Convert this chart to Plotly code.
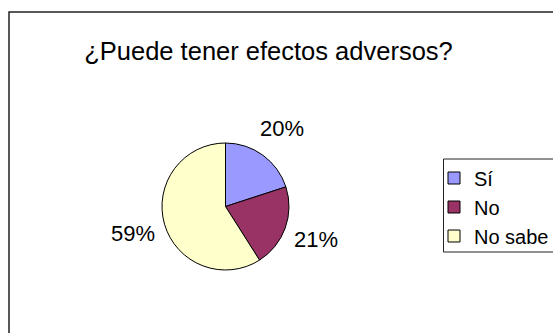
import math
import plotly.graph_objects as go

labels = ["Sí", "No", "No sabe"]
values = [20, 21, 59]
colors = ["#9999FF", "#993366", "#FFFFCC"]
title_text = "¿Puede tener efectos adversos?"

W, H = 553, 333
FONT = "Liberation Sans, Arial, sans-serif"

pcx, pcy, pr = 225.5, 206.5, 63.5

def px(x):
    return x / W

def py(y):
    return 1 - y / H

fig = go.Figure()
fig.add_trace(go.Pie(
    labels=labels, values=values, sort=False, direction="clockwise", rotation=0,
    marker=dict(colors=colors, line=dict(color="black", width=1)),
    textinfo="none", hoverinfo="label+percent",
    domain=dict(x=[px(pcx - pr), px(pcx + pr)], y=[py(pcy + pr), py(pcy - pr)]),
))

# percentage labels around the pie, positioned from the slice values
total = sum(values)
annotations = []
cum = 0
for v in values:
    mid = (cum + v / 2) / total
    cum += v
    ang = 2 * math.pi * mid
    r = pr * 1.52
    x = pcx + r * math.sin(ang)
    y = pcy - r * math.cos(ang)
    annotations.append(dict(
        x=px(x), y=py(y), xref="paper", yref="paper", showarrow=False,
        text=f"{round(v / total * 100)}%", xanchor="center", yanchor="middle",
        font=dict(family=FONT, size=22, color="black"),
    ))

shapes = [
    # outer chart-area border
    dict(type="rect", xref="paper", yref="paper", x0=px(9), x1=1.1, y0=-0.1, y1=py(12),
         line=dict(color="#222", width=1.5), fillcolor="rgba(0,0,0,0)"),
    # legend frame
    dict(type="rect", xref="paper", yref="paper", x0=px(443.5), x1=1.1, y0=py(252), y1=py(159),
         line=dict(color="#222", width=1), fillcolor="rgba(0,0,0,0)"),
]

fig.update_layout(
    width=W, height=H,
    margin=dict(l=0, r=0, t=0, b=0, autoexpand=False),
    paper_bgcolor="white", plot_bgcolor="white",
    title=dict(text=title_text, x=px(268.5), y=py(51), xanchor="center", yanchor="middle",
               font=dict(family=FONT, size=25.5, color="black")),
    showlegend=True,
    legend=dict(x=px(434), y=py(158.5), xanchor="left", yanchor="top",
                font=dict(family=FONT, size=20, color="black"),
                bgcolor="rgba(0,0,0,0)", borderwidth=0, itemwidth=30,
                tracegroupgap=0),
    annotations=annotations,
    shapes=shapes,
)

fig.write_html(
    "out.html",
    config={"displayModeBar": False},
    post_script="document.body.style.margin='0';document.body.style.overflow='hidden';",
)
